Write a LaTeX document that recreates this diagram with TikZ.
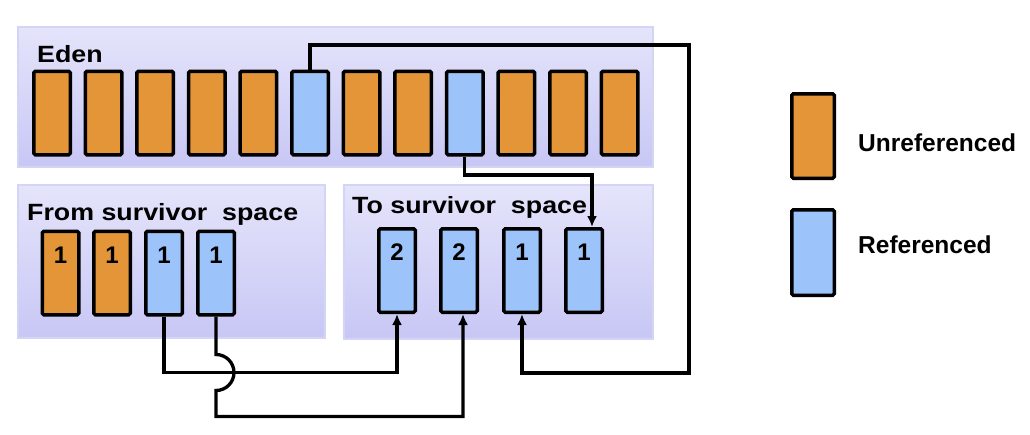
\documentclass[tikz,border=0pt]{standalone}
\usepackage{fontspec}
\setmainfont{Liberation Sans}
\newfontfamily\lblfont{Liberation Sans}[FakeStretch=1.14]
\usetikzlibrary{arrows.meta,calc}
\definecolor{orng}{RGB}{227,149,55}
\definecolor{blu}{RGB}{156,196,250}
\definecolor{pantop}{RGB}{228,228,251}
\definecolor{panbot}{RGB}{200,199,245}
\definecolor{panedge}{RGB}{212,212,246}
\begin{document}
\begin{tikzpicture}[x=1pt,y=-1pt,
  panel/.style={rectangle, draw=panedge, line width=1.2pt, top color=pantop, bottom color=panbot, inner sep=0pt},
  obj/.style={rectangle, draw=black, line width=3.5pt, rounded corners=1.5pt, minimum width=36.5pt, minimum height=83.5pt, inner sep=0pt},
  numtext/.style={anchor=north, yshift=-17pt, inner sep=0pt, font=\bfseries\fontsize{24}{28}\selectfont},
  ptext/.style={inner sep=0pt, font=\lblfont\bfseries\fontsize{23.5}{28}\selectfont},
  ltext/.style={inner sep=0pt, font=\bfseries\fontsize{24.5}{29}\selectfont},
  conn/.style={draw=black, line width=3.3pt},
  arr/.style={conn, -{Latex[length=11pt,width=10pt]}}]
\fill[white] (0,0) rectangle (1030,434);
\useasboundingbox (0,0) rectangle (1030,434);
% panels
\node[panel, minimum width=635pt, minimum height=140pt] (eden) at (335.5,97) {};
\node[panel, minimum width=307pt, minimum height=153pt] (from) at (171.5,261.5) {};
\node[panel, minimum width=309pt, minimum height=154pt] (to) at (498.5,262) {};
\node[ptext, anchor=base west] (edenlbl) at (37,62) {Eden};
\node[ptext, anchor=base west] (fromlbl) at (27,220) {From survivor\ \ space};
\node[ptext, anchor=base west] (tolbl) at (352,213) {To survivor\ \ space};
% eden objects
\foreach \i/\c in {1/orng,2/orng,3/orng,4/orng,5/orng,6/blu,7/orng,8/orng,9/blu,10/orng,11/orng,12/orng}
  \node[obj, fill=\c] (e\i) at ({52+51.6*(\i-1)},113) {};
% from survivor
\foreach \i/\c/\x in {1/orng/60.5,2/orng/112,3/blu/164,4/blu/216}
  \node[obj, fill=\c, label={[numtext]north:1}] (f\i) at (\x,273) {};
% to survivor
\foreach \i/\n/\x in {1/2/397,2/2/459,3/1/522,4/1/584}
  \node[obj, fill=blu, label={[numtext]north:\n}] (t\i) at (\x,270.5) {};
% legend
\node[obj, fill=orng, minimum width=42.5pt, minimum height=84.5pt] (lu) at (813,136) {};
\node[obj, fill=blu, minimum width=42.5pt, minimum height=85.5pt] (lr) at (813,252.5) {};
\node[ltext, anchor=base west] (lutext) at (858,151) {Unreferenced};
\node[ltext, anchor=base west] (lrtext) at (858,253) {Referenced};
% connectors
\coordinate (c1) at (689,45);
\coordinate (c2) at (689,373);
\coordinate (c3) at (592,175);
\draw[arr] (e6.north) |- (c1) -- (c2) -| (t3.south);
\draw[arr] (e9.south) |- (c3) -- (c3 |- t4.north);
\draw[arr] (f3.south) -- ++(0,56) -| (t1.south);
\draw[arr] (f4.south) -- ++(0,38) arc[start angle=90, end angle=-90, radius=18pt] -- ++(0,26) -| ($(t2.south)+(4,0)$);
\end{tikzpicture}
\end{document}
